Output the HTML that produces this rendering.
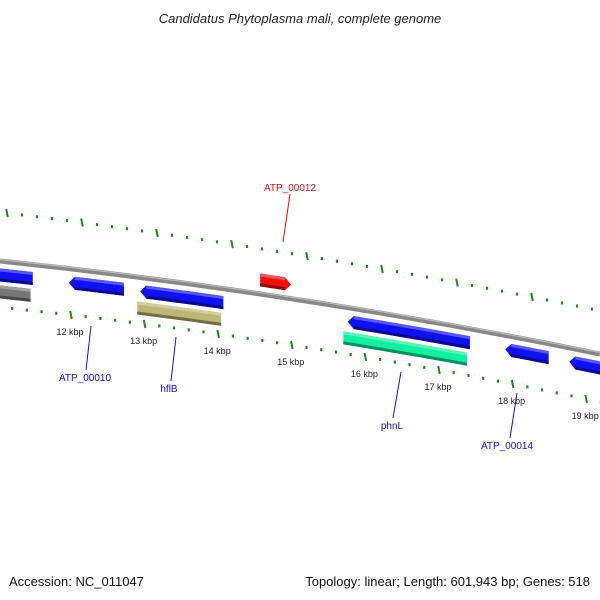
<!DOCTYPE html>
<html><head><meta charset="utf-8"><style>
html,body{margin:0;padding:0;background:#fff;}
svg{display:block;font-family:"Liberation Sans",sans-serif;}
</style></head><body>
<svg id="chart" width="600" height="600" viewBox="0 0 600 600">
<text x="300" y="23" text-anchor="middle" font-size="13" font-style="italic" fill="#222">Candidatus Phytoplasma mali, complete genome</text>
<path d="M0,261 Q300,292.5 600,354" stroke="#888" stroke-width="5" fill="none"/>
<path d="M0,259.5 Q300,291 600,352.5" stroke="#bbb" stroke-width="1.2" fill="none"/>
<g id="ticks"></g>
<g id="genes"></g>
<g id="labels"></g>
<text x="9" y="586" font-size="13" fill="#111">Accession: NC_011047</text>
<text x="590" y="586" text-anchor="end" font-size="13" fill="#111">Topology: linear; Length: 601,943 bp; Genes: 518</text>
</svg>
<script>
const tickKbp = [12,13,14,15,16,17,18,19];
const tickLabels = ["12 kbp","13 kbp","14 kbp","15 kbp","16 kbp","17 kbp","18 kbp","19 kbp"];
const geneNames = ["gene-left","ATP_00010","hflB","ATP_00012","phnL","ATP_00014","gene-right","cog-left","cog-hflB","cog-phnL"];
const geneStart = [10.9,11.97,12.94,14.57,15.76,17.90,18.77,10.9,12.90,15.70];
const geneEnd = [11.48,12.72,14.07,14.99,17.42,18.49,19.4,11.45,14.04,17.38];
const geneStrand = [-1,-1,-1,1,-1,-1,-1,0,0,0];
const geneColors = ["#1010f0","#1010f0","#1010f0","#f01010","#1010f0","#1010f0","#1010f0","#777777","#bdb877","#10f0a0"];
const labelText = ["ATP_00010","hflB","ATP_00012","phnL","ATP_00014"];
const labelGene = [1,2,3,4,5];
const labelColor = ["#1010e0","#1010e0","#e01010","#1010e0","#1010e0"];

const NS="http://www.w3.org/2000/svg";
function kx(k){return 71+(k-12)*73.6;}
function by(x){return 261+0.105*x+0.0000833*x*x;}
function lowY(k){const d=k-12;return 315+8.5*d+0.5*d*d;}
function upX(k){return 7+(k-11)*75;}
function upY(k){const d=k-11;return 213+9.2*d+0.4*d*d;}
function el(t,a){const e=document.createElementNS(NS,t);for(const k in a)e.setAttribute(k,a[k]);return e;}

const tg=document.getElementById('ticks');
for(let i=0;i<=60;i++){
  const k=10.6+i*0.2;const major=Math.abs(k-Math.round(k))<0.01;
  const lx=kx(k), ly=lowY(k);
  if(lx>-5&&lx<605){
    const m=el('line',{x1:lx+(major?-0.8:0),y1:ly-(major?4:1.5),x2:lx+(major?0.8:0),y2:ly+(major?4:1.5),stroke:'#1a8a1a','stroke-width':major?2:2.2});
    
    
    tg.appendChild(m);
  }
  const ux=upX(k), uy=upY(k);
  if(ux>-5&&ux<605){
    const m=el('line',{x1:ux+(major?-0.8:0),y1:uy-(major?4:1.5),x2:ux+(major?0.8:0),y2:uy+(major?4:1.5),stroke:'#1a8a1a','stroke-width':major?2:2.2});
    
    
    tg.appendChild(m);
  }
}
tickKbp.forEach((k,i)=>{
  const t=el('text',{x:kx(k)-1,y:lowY(k)+20,'text-anchor':'middle','font-size':'9',fill:'#222'});
  t.textContent=tickLabels[i];
  
  
  tg.appendChild(t);
});

function shade(c,f){const n=parseInt(c.slice(1),16);let r=n>>16,g=(n>>8)&255,b=n&255;
  const m=v=>Math.max(0,Math.min(255,Math.round(f>0?v+(255-v)*f:v*(1+f))));return `rgb(${m(r)},${m(g)},${m(b)})`;}
const gg=document.getElementById('genes');
function geneCenter(i){return geneStrand[i]===1?-14:(geneStrand[i]===-1?14:31);}
geneNames.forEach((n,i)=>{
  const x1=kx(geneStart[i]), x2=kx(geneEnd[i]);
  const off=geneCenter(i); const h=geneStrand[i]===0?13:13;
  const s=geneStrand[i]; const tip=6;
  const pts=[];
  const N=8;
  const a=s===-1?x1+tip:x1, b=s===1?x2-tip:x2;
  for(let j=0;j<=N;j++){const x=a+(b-a)*j/N;pts.push([x,by(x)+off-h/2]);}
  if(s===1){pts.push([x2,by(x2)+off]);}
  for(let j=N;j>=0;j--){const x=a+(b-a)*j/N;pts.push([x,by(x)+off+h/2]);}
  if(s===-1){pts.push([x1,by(x1)+off]);}
  const g=el('g',{});
  
  
  g.appendChild(el('polygon',{points:pts.map(q=>q.join(',')).join(' '),fill:geneColors[i]}));
  const hl=[];for(let j=0;j<=N;j++){const x=a+(b-a)*j/N;hl.push([x,by(x)+off-h/2]);}
  for(let j=N;j>=0;j--){const x=a+(b-a)*j/N;hl.push([x,by(x)+off-h/2+3]);}
  g.appendChild(el('polygon',{points:hl.map(q=>q.join(',')).join(' '),fill:shade(geneColors[i],0.3)}));
  const dk=[];for(let j=0;j<=N;j++){const x=a+(b-a)*j/N;dk.push([x,by(x)+off+h/2-3]);}
  for(let j=N;j>=0;j--){const x=a+(b-a)*j/N;dk.push([x,by(x)+off+h/2]);}
  g.appendChild(el('polygon',{points:dk.map(q=>q.join(',')).join(' '),fill:shade(geneColors[i],-0.4)}));
  gg.appendChild(g);
});

const lg=document.getElementById('labels');
const labelPos=[[85,381,91,326,86,370],[169,392,176,337,171,381],[290,191,290,194,283,242],[392,429,401,372,393,418],[507,449,517,393,510,438]];
labelText.forEach((t,i)=>{
  const lp=labelPos[i];
  const ln=el('line',{x1:lp[2],y1:lp[3],x2:lp[4],y2:lp[5],stroke:labelColor[i],'stroke-width':1});
  
  
  lg.appendChild(ln);
  const tx=el('text',{x:lp[0],y:lp[1],'text-anchor':'middle','font-size':'10',fill:labelColor[i]});
  tx.textContent=t;
  
  
  lg.appendChild(tx);
});
</script>
</body></html>
